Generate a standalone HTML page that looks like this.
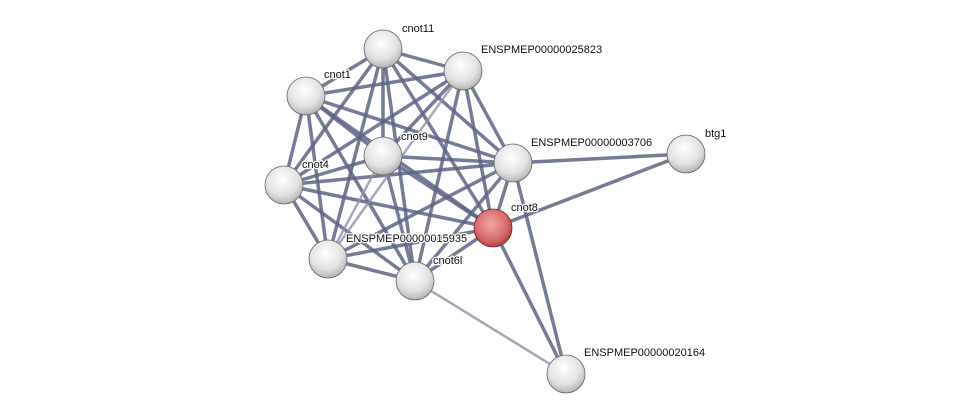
<!DOCTYPE html>
<html><head><meta charset="utf-8"><style>
html,body{margin:0;padding:0;background:#fff;width:975px;height:419px;overflow:hidden}
svg text{font-family:"Liberation Sans",sans-serif;font-size:11px;fill:#111;stroke:#fff;stroke-width:2.5px;paint-order:stroke;stroke-linejoin:round}
</style></head><body>
<svg width="975" height="419" xmlns="http://www.w3.org/2000/svg">
<defs>
<radialGradient id="g" cx="0.45" cy="0.35" r="0.7">
<stop offset="0" stop-color="#ffffff"/><stop offset="0.6" stop-color="#e2e2e2"/><stop offset="1" stop-color="#a9a9a9"/></radialGradient>
<radialGradient id="r" cx="0.45" cy="0.4" r="0.7">
<stop offset="0" stop-color="#f3a6a6"/><stop offset="0.6" stop-color="#d86a6a"/><stop offset="1" stop-color="#9b2e2e"/></radialGradient>
</defs>
<g stroke="#5c6585" stroke-width="3.5" stroke-opacity="0.85">
<line x1="383" y1="49" x2="463" y2="71"/>
<line x1="383" y1="49" x2="306" y2="96"/>
<line x1="383" y1="49" x2="383" y2="156"/>
<line x1="383" y1="49" x2="513" y2="163"/>
<line x1="383" y1="49" x2="284" y2="185"/>
<line x1="383" y1="49" x2="493" y2="228"/>
<line x1="383" y1="49" x2="328" y2="259"/>
<line x1="383" y1="49" x2="415" y2="281"/>
<line x1="463" y1="71" x2="306" y2="96"/>
<line x1="463" y1="71" x2="383" y2="156"/>
<line x1="463" y1="71" x2="513" y2="163"/>
<line x1="463" y1="71" x2="284" y2="185"/>
<line x1="463" y1="71" x2="493" y2="228"/>
<line x1="463" y1="71" x2="415" y2="281"/>
<line x1="306" y1="96" x2="383" y2="156"/>
<line x1="306" y1="96" x2="513" y2="163"/>
<line x1="306" y1="96" x2="284" y2="185"/>
<line x1="306" y1="96" x2="493" y2="228"/>
<line x1="306" y1="96" x2="328" y2="259"/>
<line x1="306" y1="96" x2="415" y2="281"/>
<line x1="383" y1="156" x2="513" y2="163"/>
<line x1="383" y1="156" x2="284" y2="185"/>
<line x1="383" y1="156" x2="493" y2="228"/>
<line x1="383" y1="156" x2="415" y2="281"/>
<line x1="513" y1="163" x2="284" y2="185"/>
<line x1="513" y1="163" x2="493" y2="228"/>
<line x1="513" y1="163" x2="328" y2="259"/>
<line x1="513" y1="163" x2="415" y2="281"/>
<line x1="513" y1="163" x2="686" y2="154"/>
<line x1="513" y1="163" x2="566" y2="374"/>
<line x1="284" y1="185" x2="493" y2="228"/>
<line x1="284" y1="185" x2="328" y2="259"/>
<line x1="284" y1="185" x2="415" y2="281"/>
<line x1="493" y1="228" x2="328" y2="259"/>
<line x1="493" y1="228" x2="415" y2="281"/>
<line x1="493" y1="228" x2="686" y2="154"/>
<line x1="493" y1="228" x2="566" y2="374"/>
<line x1="328" y1="259" x2="415" y2="281"/>
</g>
<g stroke="#8d94ad" stroke-width="2.5" stroke-opacity="0.8">
<line x1="463" y1="71" x2="328" y2="259"/>
<line x1="383" y1="156" x2="328" y2="259"/>
<line x1="415" y1="281" x2="566" y2="374"/>
</g>
<g stroke="#666" stroke-width="0.8">
<circle cx="383" cy="49" r="19" fill="url(#g)"/>
<circle cx="463" cy="71" r="19" fill="url(#g)"/>
<circle cx="306" cy="96" r="19" fill="url(#g)"/>
<circle cx="383" cy="156" r="19" fill="url(#g)"/>
<circle cx="513" cy="163" r="19" fill="url(#g)"/>
<circle cx="686" cy="154" r="19" fill="url(#g)"/>
<circle cx="284" cy="185" r="19" fill="url(#g)"/>
<circle cx="328" cy="259" r="19" fill="url(#g)"/>
<circle cx="415" cy="281" r="19" fill="url(#g)"/>
<circle cx="566" cy="374" r="19" fill="url(#g)"/>
<circle cx="493" cy="228" r="19" fill="url(#r)" stroke="#7a2020"/>
</g>
<text x="402" y="32">cnot11</text>
<text x="481" y="53">ENSPMEP00000025823</text>
<text x="324" y="78">cnot1</text>
<text x="401" y="140">cnot9</text>
<text x="531" y="146">ENSPMEP00000003706</text>
<text x="705" y="137">btg1</text>
<text x="302" y="168">cnot4</text>
<text x="511" y="211">cnot8</text>
<text x="346" y="242">ENSPMEP00000015935</text>
<text x="433" y="264">cnot6l</text>
<text x="584" y="356">ENSPMEP00000020164</text>
</svg>
</body></html>
